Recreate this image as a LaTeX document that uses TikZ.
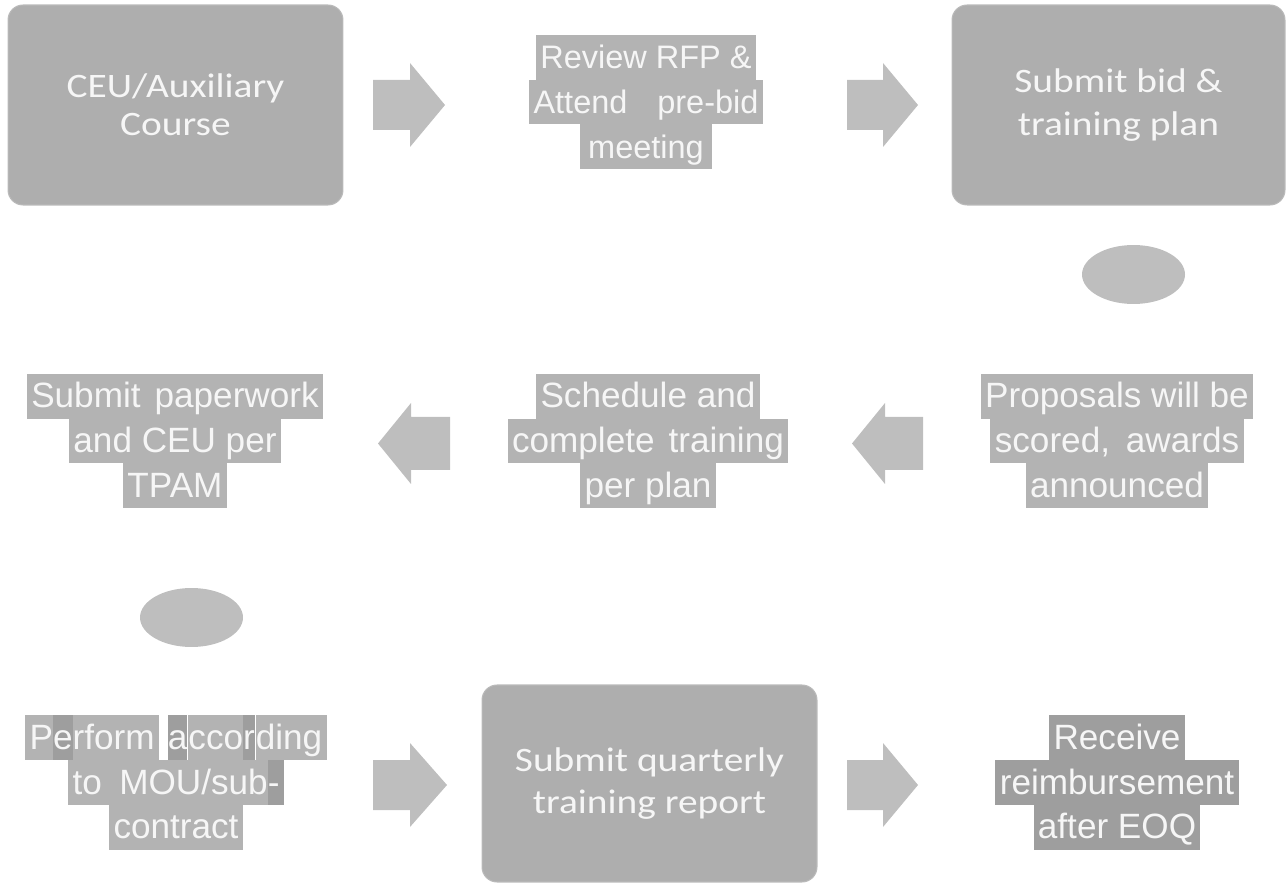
\documentclass[tikz,border=0pt]{standalone}
\usepackage{fontspec}
\usepackage{tikz}
\usetikzlibrary{shapes.geometric}

\newfontfamily\boxfont[FakeStretch=1.15]{Carlito}
\newfontfamily\hlfont{Liberation Sans}

\definecolor{boxgray}{RGB}{174,174,174}
\definecolor{hlgray}{RGB}{179,179,179}
\definecolor{hldark}{RGB}{158,158,158}
\definecolor{arrowgray}{RGB}{190,190,190}
\definecolor{softwhite}{RGB}{246,246,246}

\setlength{\fboxsep}{0pt}
\setlength{\lineskiplimit}{-10pt}
\setlength{\lineskip}{0pt}
\newcommand{\hlstrut}{\rule[-6.2pt]{0pt}{25.5pt}}
\newcommand{\hlpiece}[2][hlgray]{\colorbox{#1}{\hlstrut#2}}
\newcommand{\hlline}[2][hlgray]{\hlpiece[#1]{\hspace{2.5pt}#2\hspace{2.5pt}}}

\begin{document}
\begin{tikzpicture}[x=0.02cm, y=-0.02cm,
    roundbox/.style={fill=boxgray, draw=boxgray!85!white, line width=0.6pt,
        rounded corners=0.3cm, minimum width=6.7cm, minimum height=4cm,
        align=center, text=softwhite,
        font=\boxfont\fontsize{19.5}{24.4}\selectfont},
    hltext/.style={inner sep=0pt, align=center, text=softwhite,
        font=\hlfont\fontsize{18.5}{25.5}\selectfont},
    hltextbig/.style={hltext, font=\hlfont\fontsize{20}{25.5}\selectfont},
    blob/.style={ellipse, fill=arrowgray, minimum width=2.06cm, minimum height=1.18cm},
    blockarrow/.style={fill=arrowgray}]
    \useasboundingbox (0,0) rectangle (1287,884);

    % first row
    \node (ceu) at (175.5,105) [roundbox, font=\boxfont\fontsize{19.5}{21.5}\selectfont] {CEU/Auxiliary\\Course};
    \node (review) at (646,102) [hltext] {\hlline{Review RFP \&}\\\hlline{Attend\hspace{17pt}pre-bid}\\\hlline{\hspace{2pt}meeting\hspace{2pt}}};
    \node (bid) at (1118.5,105) [roundbox, minimum width=6.66cm] {Submit bid \&\\training plan};
    \node (blob1) at (1133.5,274.5) [blob] {};

    % second row
    \node (paperwork) at (175,441) [hltextbig] {\hlline{Submit\hspace{8pt}paperwork}\\\hlline{and CEU per}\\\hlline{TPAM}};
    \node (schedule) at (648,441) [hltextbig] {\hlline{Schedule and}\\\hlline{complete\hspace{8pt}training}\\\hlline{per plan}};
    \node (proposals) at (1117,441) [hltextbig] {\hlline{Proposals will be}\\\hlline{scored,\hspace{9pt}awards}\\\hlline{announced}};
    \node (blob2) at (191.5,617.5) [blob] {};

    % third row
    \node (perform) at (176,782.5) [hltextbig] {\hlpiece{\hspace{2.5pt}P}\hlpiece[hldark]{e}\hlpiece{rform\hspace{2.5pt}}\hspace{5pt}\hlpiece[hldark]{a}\hspace{0.6pt}\hlpiece{cco}\hlpiece[hldark]{r}\hspace{0.6pt}\hlpiece{ding\hspace{2.5pt}}\\\hlpiece{\hspace{2.5pt}to\hspace{10pt}MOU/sub}\hlpiece[hldark]{-\hspace{2.5pt}}\\\hlline{contract}};
    \node (quarterly) at (649.5,783.5) [roundbox, minimum height=3.94cm] {Submit quarterly\\training report};
    \node (receive) at (1117,782.5) [hltextbig] {\hlline[hldark]{Receive}\\\hlline[hldark]{reimbursement}\\\hlline[hldark]{after EOQ}};

    % block arrows
    \fill[blockarrow] (373,80) -- (410,80) -- (410,63) -- (445,105) -- (410,147) -- (410,130) -- (373,130) -- cycle;
    \fill[blockarrow] (847,80) -- (883,80) -- (883,63) -- (918,105) -- (883,147) -- (883,130) -- (847,130) -- cycle;
    \fill[blockarrow] (923,417) -- (885,417) -- (885,403) -- (852,443.5) -- (885,484) -- (885,470) -- (923,470) -- cycle;
    \fill[blockarrow] (450,417) -- (411,417) -- (411,403) -- (378,443.5) -- (411,484) -- (411,470) -- (450,470) -- cycle;
    \fill[blockarrow] (373,760) -- (410,760) -- (410,743) -- (447,785) -- (410,827) -- (410,810) -- (373,810) -- cycle;
    \fill[blockarrow] (847,760) -- (883,760) -- (883,743) -- (918,785) -- (883,827) -- (883,810) -- (847,810) -- cycle;
\end{tikzpicture}
\end{document}
